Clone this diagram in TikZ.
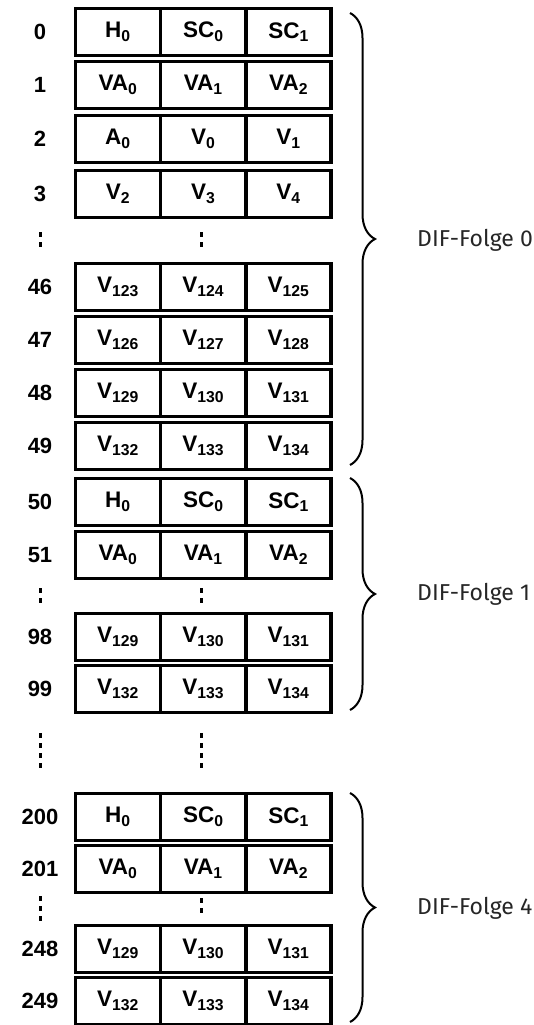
\documentclass[tikz,border=0pt]{standalone}
\usepackage{fontspec}
\setmainfont{Liberation Sans}
\newfontfamily\folgefont{Fira Sans}
\usetikzlibrary{positioning,decorations.pathreplacing}
\newcommand{\sub}[1]{\textsubscript{#1}}
\tikzset{
  cell/.style={draw, line width=1.8pt, minimum width=83.5pt, minimum height=45pt,
               inner sep=0pt, font=\fontsize{22.5}{22.5}\selectfont\bfseries},
  rowlbl/.style={inner sep=0pt, font=\fontsize{22}{22}\selectfont\bfseries},
  dbrace/.style={decorate, decoration={brace, amplitude=25pt}, line width=2pt},
  folge/.style={anchor=west, inner sep=0pt, text=black!85,
                font=\folgefont\fontsize{23}{23}\selectfont},
  vdots/.style={line width=3pt, dash pattern=on 5pt off 5pt},
}

\begin{document}
\begin{tikzpicture}[x=1pt,y=-1pt]
  \useasboundingbox (0,0) rectangle (534,1025);
  % rows of the DIF blocks
  \foreach \y/\n/\a/\b/\c in {
      32/0/H\sub{0}/SC\sub{0}/SC\sub{1},
      85/1/VA\sub{0}/VA\sub{1}/VA\sub{2},
      139/2/A\sub{0}/V\sub{0}/V\sub{1},
      194/3/V\sub{2}/V\sub{3}/V\sub{4},
      287/46/V\sub{123}/V\sub{124}/V\sub{125},
      340/47/V\sub{126}/V\sub{127}/V\sub{128},
      393/48/V\sub{129}/V\sub{130}/V\sub{131},
      446/49/V\sub{132}/V\sub{133}/V\sub{134},
      502/50/H\sub{0}/SC\sub{0}/SC\sub{1},
      555/51/VA\sub{0}/VA\sub{1}/VA\sub{2},
      637/98/V\sub{129}/V\sub{130}/V\sub{131},
      689/99/V\sub{132}/V\sub{133}/V\sub{134},
      817/200/H\sub{0}/SC\sub{0}/SC\sub{1},
      869/201/VA\sub{0}/VA\sub{1}/VA\sub{2},
      949/248/V\sub{129}/V\sub{130}/V\sub{131},
      1001/249/V\sub{132}/V\sub{133}/V\sub{134}}{
    \node[rowlbl] (l\n) at (40,\y) {\n};
    \node[cell] (a\n) at (118,\y) {\a};
    \node[cell, right=0pt of a\n] (b\n) {\b};
    \node[cell, right=0pt of b\n] (c\n) {\c};
    \draw[line width=2.6pt] (a\n.north west) rectangle (c\n.south east);
  }

  % skipped rows
  \draw[vdots] (40,232) -- (40,247);
  \draw[vdots] (201,232) -- (201,247);
  \draw[vdots] (40,588) -- (40,603);
  \draw[vdots] (201,588) -- (201,603);
  \draw[vdots] (40,733) -- (40,768);
  \draw[vdots] (201,733) -- (201,768);
  \draw[vdots] (40,896) -- (40,921);
  \draw[vdots] (201,898) -- (201,913);

  % braces
  \coordinate (t0) at (350,13);
  \coordinate (e0) at (350,465);
  \coordinate (t1) at (350,478);
  \coordinate (e1) at (350,710);
  \coordinate (t4) at (350,793);
  \coordinate (e4) at (350,1022);
  \draw[dbrace] (t0) -- (e0);
  \draw[dbrace] (t1) -- (e1);
  \draw[dbrace] (t4) -- (e4);
  \node[folge] (f0) at (417,240) {DIF-Folge 0};
  \node[folge] (f1) at (417,594) {DIF-Folge 1};
  \node[folge] (f4) at (417,908) {DIF-Folge 4};
\end{tikzpicture}
\end{document}
